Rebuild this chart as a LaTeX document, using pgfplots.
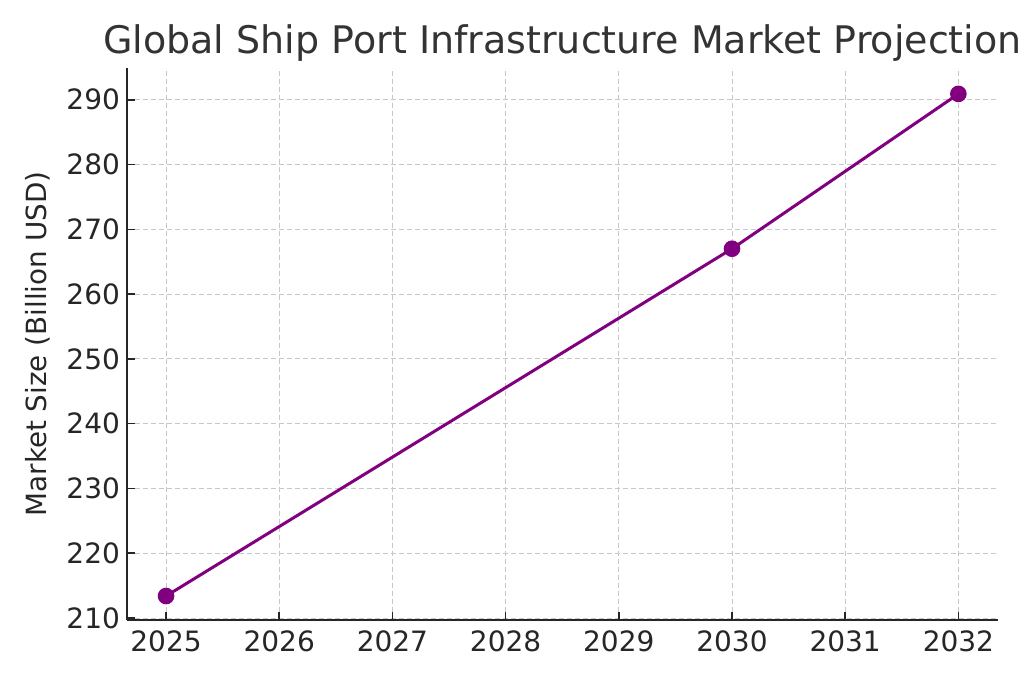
\documentclass[border=0pt]{standalone}
\usepackage{pgfplots}
\pgfplotsset{compat=1.18}
\usepackage{fontspec}
\setmainfont{DejaVu Sans}
\definecolor{linepurple}{RGB}{128,0,128}
\definecolor{txt}{RGB}{38,38,38}
\definecolor{ttl}{RGB}{51,51,51}
\definecolor{gridc}{RGB}{200,200,200}
\begin{document}
\begin{tikzpicture}
\begin{axis}[
  at={(0,0)}, anchor=south west,
  scale only axis,
  width=435.5pt, height=276pt,
  xmin=2024.655, xmax=2032.35,
  ymin=209.7, ymax=294.9,
  axis x line*=bottom, axis y line*=left,
  axis line style={line width=1pt, color=txt},
  xtick={2025,2026,2027,2028,2029,2030,2031,2032},
  ytick={210,220,230,240,250,260,270,280,290},
  tick align=inside,
  major tick length=4pt,
  tick style={line width=0.8pt, color=txt},
  xticklabel style={font=\fontsize{14pt}{16pt}\selectfont, color=txt, yshift=-2pt, /pgf/number format/1000 sep={}},
  yticklabel style={font=\fontsize{14pt}{16pt}\selectfont, color=txt},
  /pgf/number format/assume math mode=true,
  x tick label style={/pgf/number format/.cd, 1000 sep={}},
  grid=major,
  major grid style={dash pattern=on 2.5pt off 1.5pt, color=gridc, line width=0.5pt},
  ylabel={Market Size (Billion USD)},
  ylabel style={font=\fontsize{13.9pt}{15pt}\selectfont, color=txt, at={(axis description cs:-0.103,0.5)}, anchor=center},
  title={Global Ship Port Infrastructure Market Projection},
  title style={font=\fontsize{19pt}{22pt}\selectfont, color=ttl, inner sep=0pt, at={(axis description cs:0.5,1)}, anchor=base, yshift=1pt},
  clip=false,
]
\addplot[color=linepurple, line width=1.5pt, mark=*, mark size=3.4pt, mark options={fill=linepurple, draw=linepurple}]
  coordinates {(2025,213.4) (2030,267.0) (2032,290.9)};
\end{axis}
\path[use as bounding box] (-63.5pt,-31.5pt) rectangle (448.5pt,310pt);
\end{tikzpicture}
\end{document}
